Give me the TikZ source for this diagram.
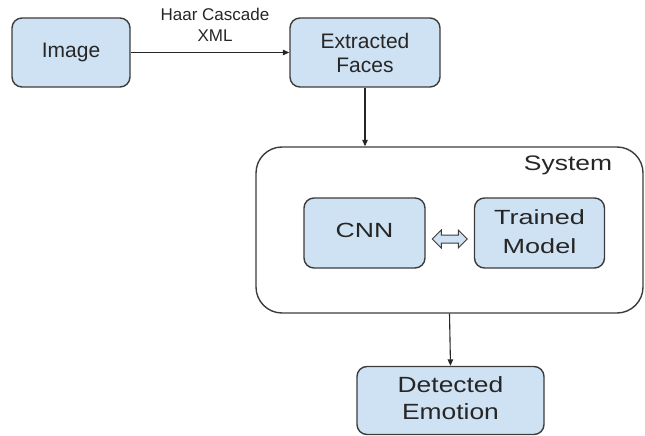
\documentclass[tikz,border=0pt]{standalone}
\usepackage{fontspec}
\setmainfont{Liberation Sans}
\usetikzlibrary{arrows.meta,calc}
\definecolor{boxfill}{HTML}{CFE2F3}
\definecolor{boxline}{HTML}{3C3C3C}
\definecolor{txt}{HTML}{262626}
\newcommand{\wtext}[2]{\scalebox{#1}[1]{\begin{tabular}{@{}c@{}}#2\end{tabular}}}
\tikzset{
  stepbox/.style={draw=boxline, fill=boxfill, line width=1.4pt, rounded corners=10pt,
    inner sep=0pt, align=center, text=txt, font=\fontsize{21}{24}\selectfont},
  sysbox/.style={draw=boxline, fill=white, line width=1.4pt, rounded corners=26pt, inner sep=0pt},
  conn/.style={draw=black!85, line width=1.1pt, -{Triangle[length=6.5pt,width=5.5pt]}},
  lbl/.style={text=txt, inner sep=0pt, align=center},
  dblarrow/.style={draw=boxline, fill=boxfill, line width=1pt, line join=miter}
}
\begin{document}
\begin{tikzpicture}[x=1pt,y=-1pt]
\useasboundingbox (0,0) rectangle (645,436);
\node[stepbox, minimum width=118pt, minimum height=69pt] (img) at (71,52.5) {\raisebox{-3pt}{Image}};
\node[stepbox, minimum width=150pt, minimum height=69pt] (ext) at (365,52.5) {Extracted\\Faces};
\node[sysbox, minimum width=387pt, minimum height=166pt] (sys) at (449.5,230) {};
\node[lbl, font=\fontsize{21}{24}\selectfont] (systxt) at (568,165) {\scalebox{1.26}[1]{System}};
\node[stepbox, minimum width=121pt, minimum height=70pt] (cnn) at (364.5,233) {\fontsize{20.5}{24}\selectfont\wtext{1.3}{CNN}};
\node[stepbox, minimum width=130pt, minimum height=70pt] (trm) at (539.5,233) {\fontsize{20.5}{29}\selectfont\wtext{1.32}{Trained\\Model}};
\node[stepbox, minimum width=187pt, minimum height=68pt] (det) at (450.5,400.5) {\fontsize{22}{27}\selectfont\wtext{1.2}{Detected\\Emotion}};
\node[lbl, font=\fontsize{17}{21}\selectfont] (haar) at (215,25) {Haar Cascade\\XML};
% connectors
\draw[conn] (img.east) -- (ext.west);
\draw[conn] (ext.south) -- (ext.south |- sys.north);
\draw[conn] (sys.south) -- (det.north);
% double block arrow between CNN and Trained Model
\coordinate (m) at ($(cnn.east)!0.5!(trm.west)$);
\draw[dblarrow] ([xshift=-17.5pt,yshift=-6pt]m) -- ++(9,-9) -- ++(0,5) -- ++(17,0) -- ++(0,-5)
  -- ++(9,9) -- ++(-9,9) -- ++(0,-5) -- ++(-17,0) -- ++(0,5) -- cycle;
\end{tikzpicture}
\end{document}
